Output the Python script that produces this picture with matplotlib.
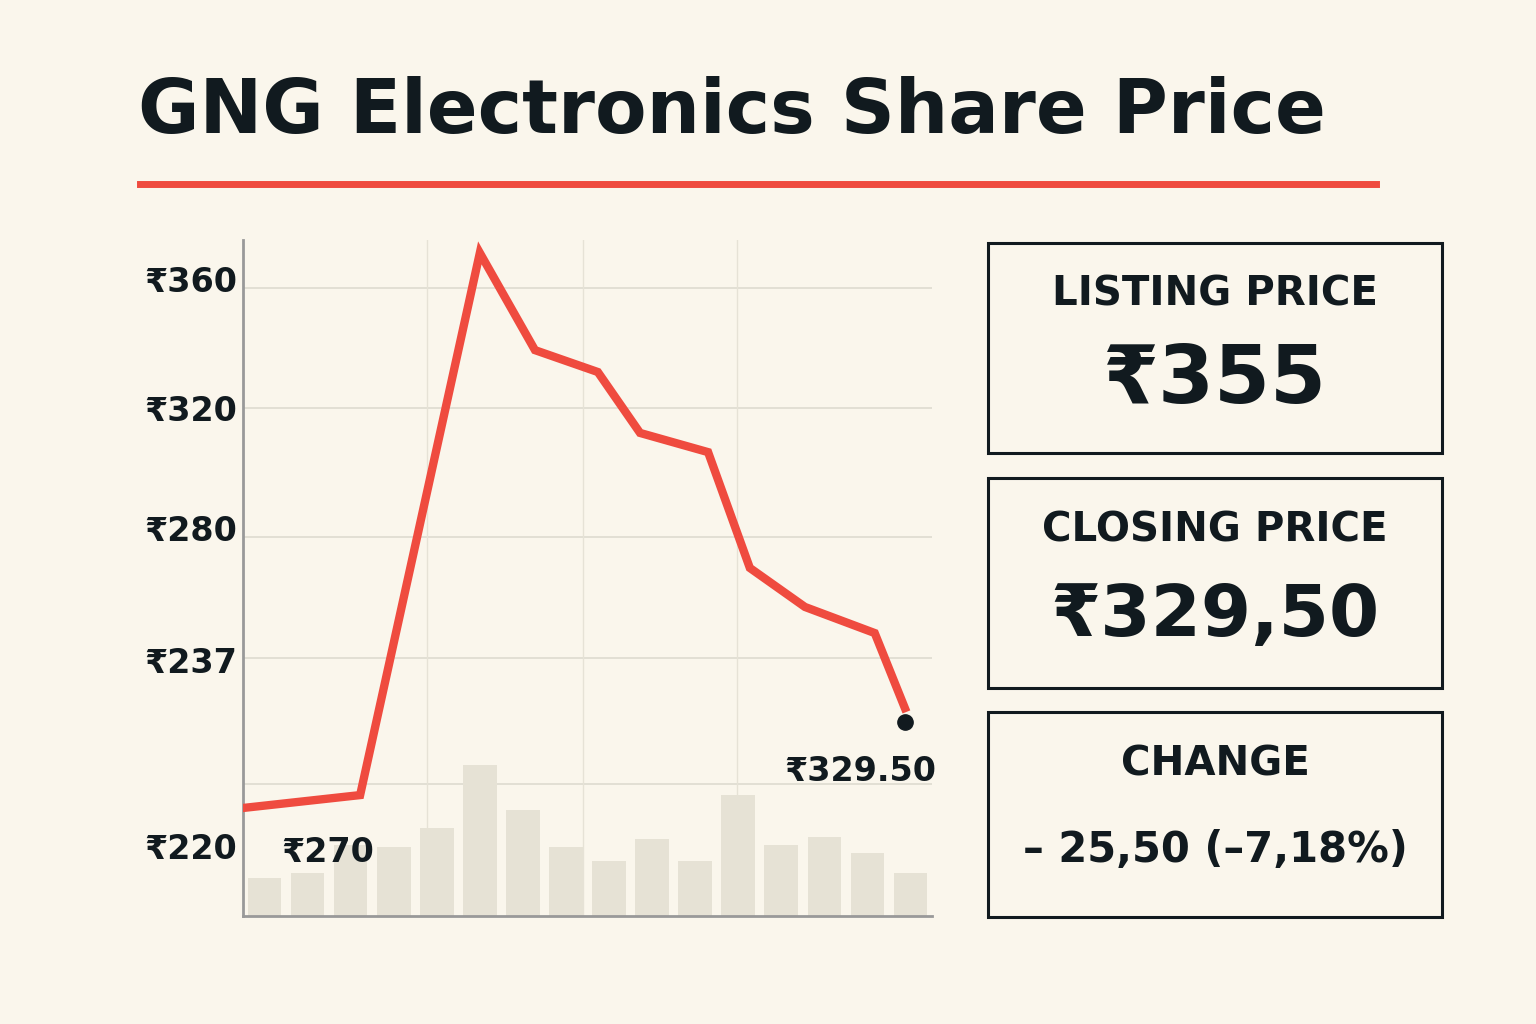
import matplotlib as mpl

mpl.use("Agg")
import matplotlib.pyplot as plt
from matplotlib.patches import Rectangle

W, H = 1536, 1024
BG = "#faf6ec"
RED = "#ef4b3f"
INK = "#111a1f"

# price line (x in bar-slot units, y in nominal price units)
line_x = [0, 2.72, 5.5, 6.78, 8.24, 9.22, 10.8, 11.77, 13.05, 14.67, 15.37]
line_y = [186.7, 191, 371.7, 339.3, 332, 311.7, 305.3, 266.7, 253.7, 245, 220]
end_x, end_y = 15.37, 215.3

# volume bars
vol = [12.7, 14.3, 23.7, 23, 29.3, 50.3, 35.3, 23, 18.3, 25.7, 18.3, 40.3, 23.7, 26.3, 21, 14.3]

ytick_pos = [363, 320, 280, 236, 174]
ytick_lab = ["₹360", "₹320", "₹280", "₹237", "₹220"]
hgrid = [360, 320, 277, 236.7, 194.7]
vgrid = [4.27, 7.9, 11.47]

cards = [("LISTING PRICE", "₹355", 243, 453, 58),
         ("CLOSING PRICE", "₹329,50", 478, 688, 52),
         ("CHANGE", "– 25,50 (–7,18%)", 712, 917, 30)]

fig = plt.figure(figsize=(W / 100, H / 100), dpi=100, facecolor=BG)


def fx(px):
    return px / W


def fy(py):
    return 1 - py / H


fig.text(fx(138), fy(112), "GNG Electronics Share Price", fontsize=54, fontweight="bold",
         family="DejaVu Sans", color=INK, va="center")
fig.add_artist(plt.Line2D([fx(140), fx(1376)], [fy(184), fy(184)], color=RED, lw=5))

ax = fig.add_axes([fx(243), fy(916), fx(932 - 243), (916 - 240) / H])
ax.set_facecolor(BG)
ymin, ymax = 150.7, 376
ax.set_xlim(0, 16)
ax.set_ylim(ymin, ymax)
for g in hgrid:
    ax.axhline(g, color="#dedbd0", lw=1.2, zorder=0)
for g in vgrid:
    ax.axvline(g, color="#e6e2d6", lw=1.0, zorder=0)
ax.bar([i + 0.5 for i in range(len(vol))], vol, bottom=ymin, width=0.78,
       color="#e6e2d5", zorder=1)
ax.plot(line_x, line_y, color=RED, lw=6, solid_joinstyle="miter", zorder=3)
ax.plot([end_x], [end_y], "o", color=INK, ms=11, zorder=4)
ax.text(16.1, 199, "₹329.50", fontsize=24, fontweight="bold", color=INK, ha="right", va="center",
        zorder=5)
ax.text(0.9, 172, "₹270", fontsize=24, fontweight="bold", color=INK, ha="left", va="center",
        zorder=5)
ax.set_yticks(ytick_pos)
ax.set_yticklabels(ytick_lab)
ax.tick_params(axis="y", length=0, labelsize=24, pad=4, labelcolor=INK)
for t in ax.get_yticklabels():
    t.set_fontweight("bold")
ax.set_xticks([])
for s in ("top", "right"):
    ax.spines[s].set_visible(False)
ax.spines["left"].set_color("#999999")
ax.spines["bottom"].set_color("#999999")
ax.spines["left"].set_linewidth(2)
ax.spines["bottom"].set_linewidth(2)

for title, val, top, bot, size in cards:
    fig.add_artist(Rectangle((fx(988), fy(bot)), fx(1442 - 988), (bot - top) / H,
                             fill=False, ec=INK, lw=2.2, transform=fig.transFigure))
    cx = fx(1215)
    fig.text(cx, fy(top + 52), title, fontsize=29, fontweight="bold", color=INK,
             ha="center", va="center")
    fig.text(cx, fy(top + 138), val, fontsize=size, fontweight="bold", color=INK,
             ha="center", va="center")

fig.savefig("out.png", dpi=100, facecolor=BG)
